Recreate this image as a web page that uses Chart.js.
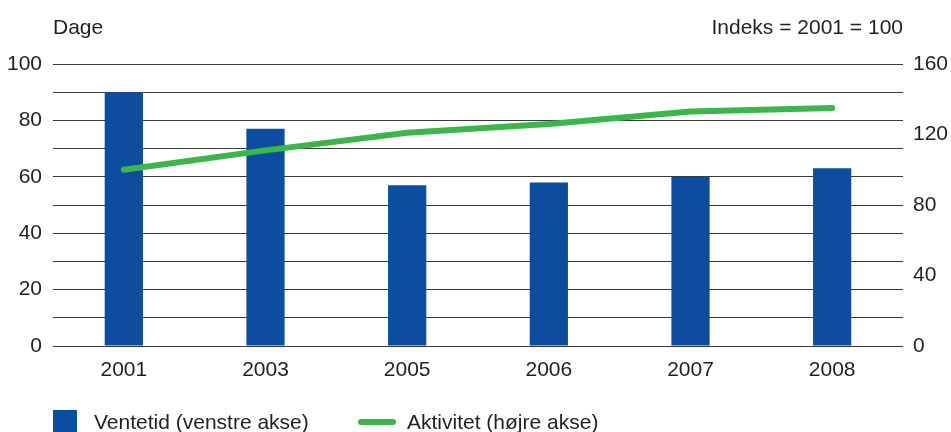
<!DOCTYPE html>
<html>
<head>
<meta charset="utf-8">
<script src="https://cdn.jsdelivr.net/npm/chart.js@4"></script>
<style>
  html, body { margin: 0; padding: 0; background: #fff; }
  body { width: 951px; height: 432px; position: relative; overflow: hidden;
         font-family: "Liberation Sans", Arial, sans-serif; color: #231f20; }
  #wrap { position: absolute; left: 0; top: 0; width: 951px; height: 432px; }
  .label { position: absolute; font-size: 21px; line-height: 21px; white-space: nowrap; }
  .legend-box { position: absolute; left: 53px; top: 410px; width: 24px; height: 24px; background: #0d4d9f; }
  .legend-line { position: absolute; left: 358px; top: 419px; width: 38px; height: 6px; background: #3cb54a; border-radius: 3px; }
</style>
</head>
<body>
<div id="wrap"><canvas id="chart" width="951" height="432"></canvas></div>
<div class="label" style="left:53px; top:16px;">Dage</div>
<div class="label" style="right:48px; top:16px;">Indeks = 2001 = 100</div>
<div class="legend-box"></div>
<div class="label" style="left:94px; top:411px;">Ventetid (venstre akse)</div>
<div class="legend-line"></div>
<div class="label" style="left:407px; top:411px;">Aktivitet (højre akse)</div>
<script>
// Data
const years = ['2001', '2003', '2005', '2006', '2007', '2008'];
const ventetid = [90, 77, 57, 58, 60, 63];          // days, left axis
const aktivitet = [100, 111, 121, 126, 133, 135];   // index 2001 = 100, right axis

const leftTicks = [0, 20, 40, 60, 80, 100];
const rightTicks = [0, 40, 80, 120, 160];

const blue = '#0d4d9f';
const green = '#3cb54a';
const textColor = '#231f20';
const tickFont = { family: 'Liberation Sans, Arial, sans-serif', size: 21 };

const ctx = document.getElementById('chart');

new Chart(ctx, {
    type: 'bar',
    data: {
        labels: years,
        datasets: [
            {
                type: 'line',
                label: 'Aktivitet (højre akse)',
                data: aktivitet,
                yAxisID: 'y1',
                borderColor: green,
                backgroundColor: green,
                borderWidth: 6,
                borderCapStyle: 'round',
                borderJoinStyle: 'round',
                pointRadius: 0,
                tension: 0,
                order: 0
            },
            {
                label: 'Ventetid (venstre akse)',
                data: ventetid,
                yAxisID: 'y',
                backgroundColor: blue,
                categoryPercentage: 1,
                barPercentage: 0.27,
                order: 1
            }
        ]
    },
    options: {
        responsive: false,
        animation: false,
        layout: { padding: { top: 64, left: 0, right: 0, bottom: 0 } },
        plugins: {
            legend: { display: false },
            tooltip: { enabled: false }
        },
        scales: {
            x: {
                grid: { display: false },
                border: { display: false },
                ticks: { color: textColor, font: tickFont, padding: 4 },
                afterFit: (s) => { s.height = 86; }
            },
            y: {
                position: 'left',
                min: 0,
                max: 100,
                border: { display: false },
                grid: { color: '#3a3a3a', lineWidth: 1, drawTicks: false },
                ticks: {
                    stepSize: 10,
                    color: textColor,
                    font: tickFont,
                    padding: 11,
                    callback: (v) => leftTicks.includes(v) ? v : ''
                },
                afterFit: (s) => { s.width = 53; }
            },
            y1: {
                position: 'right',
                min: 0,
                max: 160,
                border: { display: false },
                grid: { display: false, drawTicks: false },
                ticks: {
                    stepSize: 40,
                    color: textColor,
                    font: tickFont,
                    padding: 10,
                    callback: (v) => rightTicks.includes(v) ? v : ''
                },
                afterFit: (s) => { s.width = 48; }
            }
        }
    }
});
</script>
</body>
</html>
